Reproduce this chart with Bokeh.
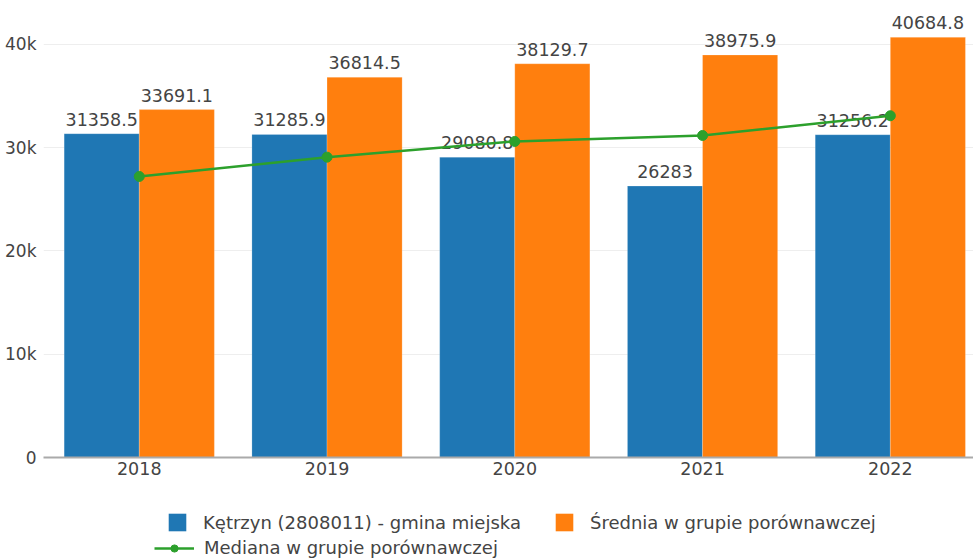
from bokeh.plotting import figure
from bokeh.layouts import column
from bokeh.models import ColumnDataSource, Range1d, FixedTicker, Legend, LegendItem
from bokeh.transform import dodge
from bokeh.core.properties import value
from bokeh.embed import file_html
from bokeh.resources import INLINE

years = ["2018", "2019", "2020", "2021", "2022"]
ketrzyn = [31358.5, 31285.9, 29080.8, 26283, 31256.2]
srednia = [33691.1, 36814.5, 38129.7, 38975.9, 40684.8]
mediana = [27215, 29085, 30605, 31185, 33095]
y_ticks = [0, 10000, 20000, 30000, 40000]
y_tick_labels = ["0", "10k", "20k", "30k", "40k"]

name_k = "Kętrzyn (2808011) - gmina miejska"
name_s = "Średnia w grupie porównawczej"
name_m = "Mediana w grupie porównawczej"

FONT = "DejaVu Sans"
TXT = "#444444"
C_K = "#1f77b4"
C_S = "#ff7f0e"
C_M = "#2ca02c"

src = ColumnDataSource(dict(
    x=list(range(len(years))),
    k=ketrzyn, s=srednia, m=mediana,
    kl=[f"{v:g}" for v in ketrzyn],
    sl=[f"{v:g}" for v in srednia],
))

p = figure(width=973, height=490, x_range=Range1d(-0.51, 4.443), y_range=Range1d(0, 43480),
           output_backend="svg", toolbar_location=None,
           min_border_left=43, min_border_top=8, min_border_right=0, min_border_bottom=33)
p.outline_line_color = None
p.xgrid.visible = False
p.ygrid.ticker = FixedTicker(ticks=y_ticks)
p.ygrid.grid_line_color = "#eeeeee"
p.ygrid.grid_line_width = 1

p.xaxis.ticker = FixedTicker(ticks=list(range(len(years))))
p.xaxis.major_label_overrides = {i: y for i, y in enumerate(years)}
p.xaxis.axis_line_color = "#aaaaaa"
p.xaxis.axis_line_width = 2
p.xaxis.major_tick_line_color = None
p.xaxis.minor_tick_line_color = None
p.xaxis.major_label_standoff = -2
p.xaxis.major_label_text_font = FONT
p.xaxis.major_label_text_font_size = "17.5px"
p.xaxis.major_label_text_color = TXT

p.yaxis.ticker = FixedTicker(ticks=y_ticks)
p.yaxis.major_label_overrides = {t: l for t, l in zip(y_ticks, y_tick_labels)}
p.yaxis.axis_line_color = None
p.yaxis.major_tick_line_color = None
p.yaxis.minor_tick_line_color = None
p.yaxis.major_label_standoff = 1
p.yaxis.major_label_text_font = FONT
p.yaxis.major_label_text_font_size = "17px"
p.yaxis.major_label_text_color = TXT

p.vbar(x=dodge("x", -0.2), top="k", width=0.4, source=src,
       fill_color=C_K, line_color="white", line_alpha=0.4, line_width=0.5)
p.vbar(x=dodge("x", 0.2), top="s", width=0.4, source=src,
       fill_color=C_S, line_color="white", line_alpha=0.4, line_width=0.5)

p.text(x=dodge("x", -0.2), y="k", text="kl", source=src, text_align="center",
       text_baseline="bottom", y_offset=-8, text_font=value(FONT),
       text_font_size="17.5px", text_color=TXT)
p.text(x=dodge("x", 0.2), y="s", text="sl", source=src, text_align="center",
       text_baseline="bottom", y_offset=-8, text_font=value(FONT),
       text_font_size="17.5px", text_color=TXT)

p.line(x="x", y="m", source=src, line_color=C_M, line_width=2.5)
p.scatter(x="x", y="m", source=src, size=10, fill_color=C_M, line_color=C_M)

# legend strip
q = figure(width=973, height=68, x_range=Range1d(0, 1), y_range=Range1d(0, 1),
           output_backend="svg", toolbar_location=None,
           min_border_left=43, min_border_top=0, min_border_right=0, min_border_bottom=0)
q.axis.visible = False
q.grid.visible = False
q.outline_line_color = None
dk = q.vbar(x=[-10], top=[-10], width=0.1, fill_color=C_K, line_color=None)
ds = q.vbar(x=[-10], top=[-10], width=0.1, fill_color=C_S, line_color=None)
dl = q.line(x=[-10, -9], y=[-10, -9], line_color=C_M, line_width=2.5)
dm = q.scatter(x=[-10], y=[-10], size=9, fill_color=C_M, line_color=C_M)

leg1 = Legend(items=[LegendItem(label=name_k, renderers=[dk]),
                     LegendItem(label=name_s, renderers=[ds])],
              orientation="horizontal", glyph_width=22, glyph_height=22,
              label_standoff=15, spacing=32, padding=0, margin=0,
              location=(123, 25), border_line_color=None, background_fill_alpha=0,
              label_text_font=FONT, label_text_font_size="18px", label_text_color=TXT)
leg2 = Legend(items=[LegendItem(label=name_m, renderers=[dl, dm])],
              orientation="horizontal", glyph_width=40, glyph_height=18,
              label_standoff=10, padding=0, margin=0,
              location=(111, 0), border_line_color=None, background_fill_alpha=0,
              label_text_font=FONT, label_text_font_size="18px", label_text_color=TXT)
q.add_layout(leg1)
q.add_layout(leg2)

layout = column(p, q, spacing=0)
open("out.html", "w").write(file_html(layout, INLINE))
